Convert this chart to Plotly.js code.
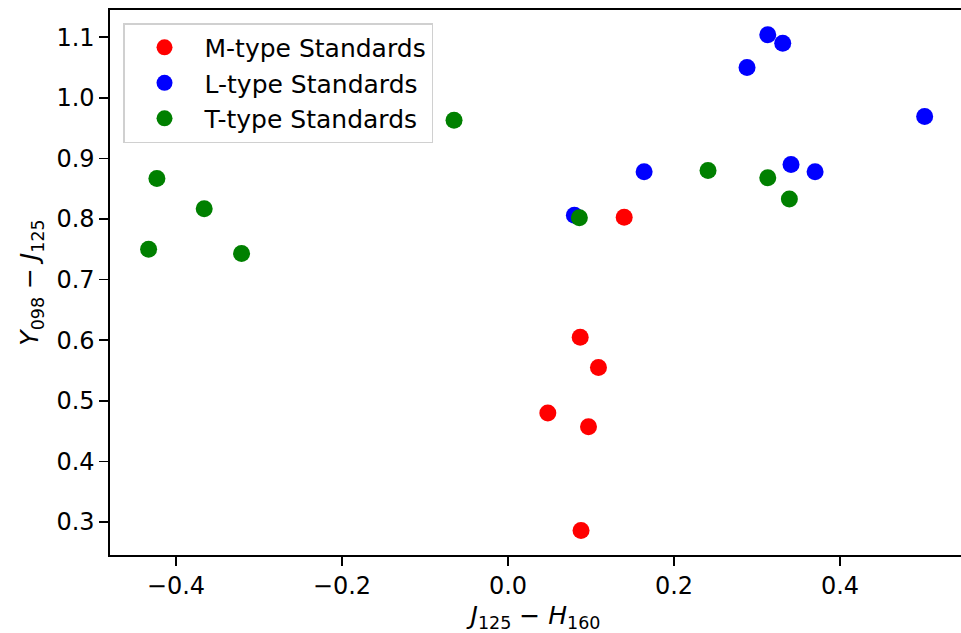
<!DOCTYPE html>
<html>
<head>
<meta charset="utf-8">
<script src="https://cdn.plot.ly/plotly-3.0.1.min.js"></script>
<style>html,body{margin:0;padding:0;background:#fff;}#chart{width:961px;height:633px;}</style>
</head>
<body>
<div id="chart"></div>
<script>
const mX = [0.140, 0.087, 0.109, 0.048, 0.097, 0.088];
const mY = [0.803, 0.605, 0.555, 0.480, 0.457, 0.286];
const lX = [0.080, 0.164, 0.288, 0.313, 0.331, 0.502, 0.341, 0.370];
const lY = [0.806, 0.878, 1.050, 1.104, 1.090, 0.969, 0.890, 0.878];
const tX = [-0.423, -0.366, -0.433, -0.321, -0.065, 0.086, 0.241, 0.313, 0.339];
const tY = [0.867, 0.817, 0.750, 0.743, 0.963, 0.802, 0.880, 0.868, 0.833];
const names = ['M-type Standards', 'L-type Standards', 'T-type Standards'];
const colors = ['#ff0000', '#0000ff', '#008000'];
const xs = [mX, lX, tX], ys = [mY, lY, tY];

const traces = xs.map((x, i) => ({
  type: 'scatter', mode: 'markers', x: x, y: ys[i], name: names[i],
  marker: {color: colors[i], size: 17, line: {width: 0}}
}));

const TFS = 24;
const axisCommon = {
  showgrid: false, zeroline: false, showline: true, linecolor: '#000', linewidth: 1.6,
  ticks: 'outside', ticklen: 9, tickwidth: 1.5, tickcolor: '#000',
  tickfont: {family: 'DejaVu Sans', size: TFS, color: '#000'}
};

const layout = {
  width: 961, height: 633,
  margin: {l: 110, r: 0, t: 10, b: 78},
  paper_bgcolor: '#fff', plot_bgcolor: '#fff',
  font: {family: 'DejaVu Sans', color: '#000', size: 25},
  xaxis: Object.assign({}, axisCommon, {
    mirror: true,
    range: [-0.4795, 0.5458], tickvals: [-0.4, -0.2, 0.0, 0.2, 0.4],
    ticktext: ['\u22120.4', '\u22120.2', '0.0', '0.2', '0.4'],
    title: {text: '<i>J</i><sub>125</sub> \u2212 <i>H</i><sub>160</sub>', font: {family: 'DejaVu Sans', size: 25}, standoff: 12}
  }),
  yaxis: Object.assign({}, axisCommon, {
    mirror: false,
    range: [0.2455, 1.1449], tickvals: [0.3, 0.4, 0.5, 0.6, 0.7, 0.8, 0.9, 1.0, 1.1],
    ticktext: ['0.3', '0.4', '0.5', '0.6', '0.7', '0.8', '0.9', '1.0', '1.1'],
    title: {text: '<i>Y</i><sub>098</sub> \u2212 <i>J</i><sub>125</sub>', font: {family: 'DejaVu Sans', size: 25}, standoff: 10}
  }),
  legend: {
    x: 0.0153, y: 0.976, xanchor: 'left', yanchor: 'top',
    bgcolor: 'rgba(255,255,255,0.8)', bordercolor: '#d0d0d0', borderwidth: 1.5,
    font: {family: 'DejaVu Sans', size: 25, color: '#000'},
    itemwidth: 70
  },
  showlegend: true
};

Plotly.newPlot('chart', traces, layout, {displayModeBar: false, staticPlot: true});
</script>
</body>
</html>
